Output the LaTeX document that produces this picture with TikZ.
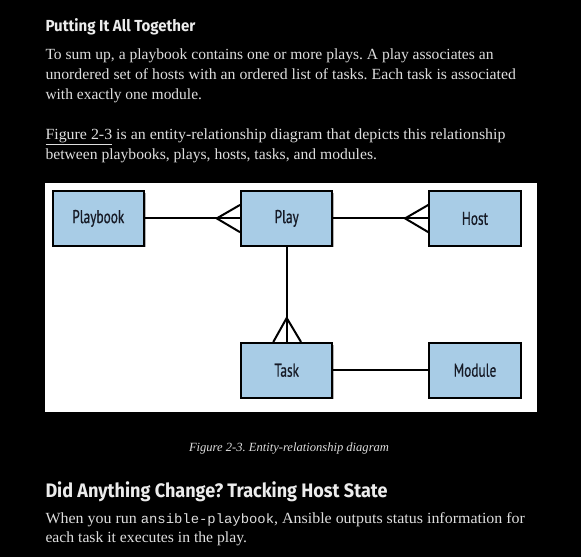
\documentclass[tikz,border=0pt]{standalone}
\usepackage{fontspec}
\usepackage{graphicx}
\setmainfont{Liberation Serif}
\setmonofont{Liberation Mono}
\newfontfamily\headfont{Fira Sans}
\newfontfamily\boxfont[FakeStretch=0.72,FakeBold=0.6]{PT Sans}
\usetikzlibrary{calc,shadows}
\definecolor{boxblue}{RGB}{168,204,230}
\definecolor{bodytext}{RGB}{222,222,222}
\definecolor{headtext}{RGB}{236,236,236}
\definecolor{boxtext}{RGB}{22,26,38}
\newsavebox\fitbox
\newdimen\fitdim
\newcommand\fitline[2]{\sbox\fitbox{#2}\fitdim=\wd\fitbox\pgfmathsetmacro\fitsx{#1/\fitdim}\scalebox{\fitsx}[1]{\usebox\fitbox}}
\frenchspacing
\tikzset{
  txt/.style={anchor=base west, inner sep=0pt, outer sep=0pt, text=bodytext, font=\fontsize{15.5}{17}\selectfont},
  head/.style={txt, text=headtext},
  ent/.style={draw=black, line width=2pt, fill=boxblue, minimum width=91.3pt, minimum height=54.7pt, inner sep=0pt,
    text=boxtext, font=\boxfont\fontsize{18.5}{18.5}\selectfont,
    drop shadow={shadow xshift=1.6pt, shadow yshift=-1.6pt, opacity=0.3, fill=black}},
  conn/.style={draw=black, line width=2pt, line join=miter}
}
\begin{document}
\begin{tikzpicture}[x=1pt,y=-1pt]
\useasboundingbox (0,0) rectangle (581,557);
\fill[black] (0,0) rectangle (581,557);
% text above
\node[head, font=\headfont\bfseries\fontsize{16}{16}\selectfont] (h1) at (45.5,31) {\fitline{150}{Putting It All Together}};
\node[txt] (l1) at (45.5,59.5) {\fitline{448}{To sum up, a playbook contains one or more plays. A play associates an}};
\node[txt] (l2) at (45.5,79.5) {\fitline{470.5}{unordered set of hosts with an ordered list of tasks. Each task is associated}};
\node[txt] (l3) at (45.5,99.5) {\fitline{156.5}{with exactly one module.}};
\node[txt] (l4) at (45.5,139) {\fitline{460}{\underline{Figure 2-3} is an entity-relationship diagram that depicts this relationship}};
\node[txt] (l5) at (45.5,159) {\fitline{331.5}{between playbooks, plays, hosts, tasks, and modules.}};
% figure
\fill[white] (45,183) rectangle (537,412);
\node[ent] (pb) at (98.3,218.4) {Playbook};
\node[ent] (pl) at (286.7,218.4) {Play};
\node[ent] (ho) at (475,218.4) {Host};
\node[ent] (ta) at (286.7,370.3) {Task};
\node[ent] (mo) at (475,370.3) {Module};
\draw[conn] (pb.east) -- (pl.west);
\draw[conn] (pl.east) -- (ho.west);
\draw[conn] (pl.south) -- (ta.north);
\draw[conn] (ta.east) -- (mo.west);
\draw[conn] ($(pl.west)+(0,-13.5)$) -- ($(pl.west)+(-23.3,0)$) -- ($(pl.west)+(0,13.8)$);
\draw[conn] ($(ho.west)+(0,-13.5)$) -- ($(ho.west)+(-23.3,0)$) -- ($(ho.west)+(0,13.8)$);
\draw[conn] ($(ta.north)+(-13.4,0)$) -- ($(ta.north)+(0,-24)$) -- ($(ta.north)+(14.3,0)$);
% caption
\node[txt, text=bodytext, font=\itshape\fontsize{12.5}{14}\selectfont] (cap) at (189,451) {\fitline{200}{Figure 2-3. Entity-relationship diagram}};
% text below
\node[head, font=\headfont\bfseries\fontsize{19.5}{20}\selectfont] (h2) at (45.5,497) {\fitline{342}{Did Anything Change? Tracking Host State}};
\node[txt] (l6) at (45.5,523) {\fitline{479.5}{When you run {\ttfamily\fontsize{13.5}{17}\selectfont ansible-playbook}, Ansible outputs status information for}};
\node[txt] (l7) at (45.5,542.5) {\fitline{201.5}{each task it executes in the play.}};
\end{tikzpicture}
\end{document}
